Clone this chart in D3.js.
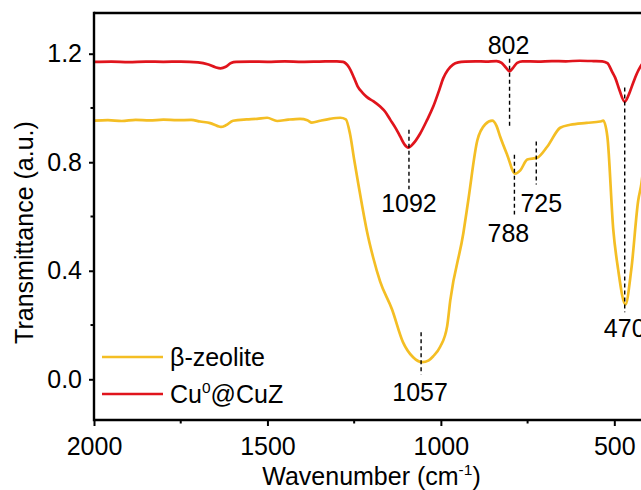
<!DOCTYPE html>
<html>
<head>
<meta charset="utf-8">
<script src="https://cdn.jsdelivr.net/npm/d3@7"></script>
<style>
  html, body { margin: 0; padding: 0; background: #fff; }
  svg { display: block; }
  text { font-family: "Liberation Sans", Arial, sans-serif; fill: #000; }
</style>
</head>
<body>
<svg id="chart" width="641" height="490"></svg>
<script>
// FTIR spectra: wavenumber (cm-1) and transmittance (a.u.)
const zeoliteWn = [2000, 1960, 1920, 1880, 1840, 1800, 1760, 1720, 1694, 1665, 1645, 1634, 1620, 1599, 1560, 1530, 1501, 1472, 1440, 1406, 1385, 1372, 1348, 1320, 1290, 1274, 1262, 1250, 1238, 1227, 1213, 1195, 1175, 1141, 1109, 1080, 1054, 1035, 1022, 1002, 982, 973, 935, 921, 895, 872, 852, 840, 829, 809, 786, 771, 751, 722, 693, 656, 627, 580, 541, 532, 520, 503, 489, 468, 451, 431, 422, 410, 400];
const zeoliteT  = [0.953, 0.955, 0.952, 0.956, 0.954, 0.957, 0.955, 0.956, 0.950, 0.944, 0.934, 0.930, 0.936, 0.953, 0.958, 0.960, 0.964, 0.952, 0.957, 0.960, 0.955, 0.946, 0.953, 0.960, 0.964, 0.958, 0.905, 0.810, 0.720, 0.640, 0.545, 0.448, 0.360, 0.258, 0.136, 0.081, 0.063, 0.070, 0.085, 0.120, 0.195, 0.290, 0.540, 0.660, 0.880, 0.940, 0.953, 0.935, 0.894, 0.828, 0.758, 0.770, 0.810, 0.817, 0.858, 0.927, 0.938, 0.945, 0.950, 0.953, 0.894, 0.552, 0.405, 0.276, 0.405, 0.660, 0.720, 0.850, 0.930];

const cuzWn = [2000, 1950, 1900, 1850, 1800, 1750, 1700, 1670, 1650, 1635, 1620, 1605, 1590, 1550, 1500, 1450, 1400, 1350, 1300, 1282, 1265, 1250, 1240, 1225, 1213, 1195, 1175, 1160, 1146, 1130, 1117, 1105, 1094, 1080, 1060, 1040, 1022, 1005, 993, 980, 965, 950, 930, 900, 870, 840, 825, 812, 802, 792, 780, 765, 720, 680, 640, 600, 560, 535, 520, 505, 497, 485, 470, 458, 445, 430, 415, 400];
const cuzT  = [1.170, 1.171, 1.169, 1.171, 1.170, 1.171, 1.168, 1.160, 1.150, 1.146, 1.152, 1.166, 1.170, 1.171, 1.170, 1.172, 1.170, 1.171, 1.172, 1.170, 1.150, 1.110, 1.080, 1.055, 1.040, 1.025, 1.005, 0.985, 0.957, 0.925, 0.894, 0.866, 0.854, 0.868, 0.905, 0.955, 1.005, 1.065, 1.110, 1.140, 1.160, 1.168, 1.171, 1.172, 1.171, 1.173, 1.166, 1.148, 1.135, 1.148, 1.166, 1.172, 1.171, 1.173, 1.172, 1.174, 1.173, 1.172, 1.165, 1.130, 1.110, 1.065, 1.023, 1.050, 1.095, 1.140, 1.168, 1.172];

const seriesNames = ["β-zeolite", "Cu⁰@CuZ"];
const xTicks = [2000, 1500, 1000, 500];
const xMinorTicks = [1750, 1250, 750];
const yTicks = [0.0, 0.4, 0.8, 1.2];
const yMinorTicks = [0.2, 0.6, 1.0];

// Band assignments marked on the spectra
const peakWn = [1092, 802, 1057, 788, 725, 470];
const peakLabels = ["1092", "802", "1057", "788", "725", "470"];

// ---- layout ----
const svg = d3.select("#chart");
const margin = { left: 94, top: 13, right: 649, bottom: 420 };
const FONT = 25;

const x = d3.scaleLinear().domain([2000, 400]).range([margin.left, margin.right]);
const y = d3.scaleLinear().domain([-0.15, 1.35]).range([margin.bottom, margin.top]);

const colors = { zeolite: "#F4BE24", cuz: "#E0141C" };

// spectra
const line = d3.line().x(d => x(d[0])).y(d => y(d[1])).curve(d3.curveMonotoneX);
const zeolite = zeoliteWn.map((w, i) => [w, zeoliteT[i]]);
const cuz = cuzWn.map((w, i) => [w, cuzT[i]]);

svg.append("path").datum(zeolite)
  .attr("d", line).attr("fill", "none")
  .attr("stroke", colors.zeolite).attr("stroke-width", 2.7).attr("stroke-linejoin", "round");
svg.append("path").datum(cuz)
  .attr("d", line).attr("fill", "none")
  .attr("stroke", colors.cuz).attr("stroke-width", 2.7).attr("stroke-linejoin", "round");

// dashed markers: value span of each line, label baseline (px) and label shift
const markerLayout = {
  "1092": { top: 0.92, bottom: 0.70, labelY: 212, dx: 0 },
  "802":  { top: 1.181, bottom: 0.927, labelY: 54, dx: -1 },
  "1057": { top: 0.173, bottom: 0.018, labelY: 401, dx: -1 },
  "788":  { top: 0.828, bottom: 0.607, labelY: 242, dx: -6 },
  "725":  { top: 0.876, bottom: 0.718, labelY: 212, dx: 5 },
  "470":  { top: 1.075, bottom: 0.247, labelY: 337, dx: 0 }
};

peakWn.forEach((w, i) => {
  const m = markerLayout[peakLabels[i]];
  svg.append("line")
    .attr("x1", x(w)).attr("x2", x(w))
    .attr("y1", y(m.top)).attr("y2", y(m.bottom))
    .attr("stroke", "#000").attr("stroke-width", 1.4)
    .attr("stroke-dasharray", "4,3");
  svg.append("text")
    .attr("x", x(w) + m.dx).attr("y", m.labelY)
    .attr("text-anchor", "middle").attr("font-size", FONT)
    .text(peakLabels[i]);
});

// frame top edge
svg.append("line")
  .attr("x1", margin.left).attr("x2", margin.right)
  .attr("y1", margin.top).attr("y2", margin.top)
  .attr("stroke", "#000").attr("stroke-width", 2.4);

// axes
const xAxis = d3.axisBottom(x).tickValues(xTicks).tickSize(6).tickPadding(11)
  .tickFormat(d3.format("d"));
const gx = svg.append("g").attr("transform", `translate(0,${margin.bottom})`).call(xAxis);
gx.select(".domain").attr("stroke-width", 2.4).attr("d", `M${margin.left},0H${margin.right}`);
gx.selectAll(".tick line").attr("stroke-width", 2);
gx.selectAll(".tick text").attr("font-size", FONT).attr("font-family", "Liberation Sans, Arial, sans-serif");
gx.selectAll(".minor").data(xMinorTicks).enter().append("line")
  .attr("x1", d => x(d)).attr("x2", d => x(d)).attr("y1", 0).attr("y2", 3.5)
  .attr("stroke", "#000").attr("stroke-width", 2);

const yAxis = d3.axisLeft(y).tickValues(yTicks).tickSize(5).tickPadding(7)
  .tickFormat(d3.format(".1f"));
const gy = svg.append("g").attr("transform", `translate(${margin.left},0)`).call(yAxis);
gy.select(".domain").attr("stroke-width", 2.4).attr("d", `M0,${margin.top - 1.2}V${margin.bottom + 1.2}`);
gy.selectAll(".tick line").attr("stroke-width", 2);
gy.selectAll(".tick text").attr("font-size", FONT).attr("font-family", "Liberation Sans, Arial, sans-serif");
gy.selectAll(".minor").data(yMinorTicks).enter().append("line")
  .attr("x1", 0).attr("x2", -3.5).attr("y1", d => y(d)).attr("y2", d => y(d))
  .attr("stroke", "#000").attr("stroke-width", 2);

// axis titles
const xt = svg.append("text").attr("x", (margin.left + margin.right) / 2).attr("y", 485)
  .attr("text-anchor", "middle").attr("font-size", FONT);
xt.append("tspan").text("Wavenumber (cm");
xt.append("tspan").attr("font-size", FONT * 0.62).attr("dy", -10).text("-1");
xt.append("tspan").attr("dy", 10).text(")");

svg.append("text")
  .attr("transform", `translate(33,${(margin.top + margin.bottom) / 2 + 16}) rotate(-90)`)
  .attr("text-anchor", "middle").attr("font-size", FONT)
  .text("Transmittance (a.u.)");

// legend
const legendRows = [
  { name: seriesNames[0], color: colors.zeolite, cy: 357 },
  { name: seriesNames[1], color: colors.cuz, cy: 394 }
];
legendRows.forEach(r => {
  svg.append("line").attr("x1", 102).attr("x2", 163).attr("y1", r.cy).attr("y2", r.cy)
    .attr("stroke", r.color).attr("stroke-width", 2.7);
});
svg.append("text").attr("x", 170).attr("y", 366).attr("font-size", FONT).text(seriesNames[0]);
const cuLabel = svg.append("text").attr("x", 170).attr("y", 403).attr("font-size", FONT);
cuLabel.append("tspan").text("Cu");
cuLabel.append("tspan").attr("font-size", FONT * 0.62).attr("dy", -10).text("0");
cuLabel.append("tspan").attr("dy", 10).text("@CuZ");
</script>
</body>
</html>
